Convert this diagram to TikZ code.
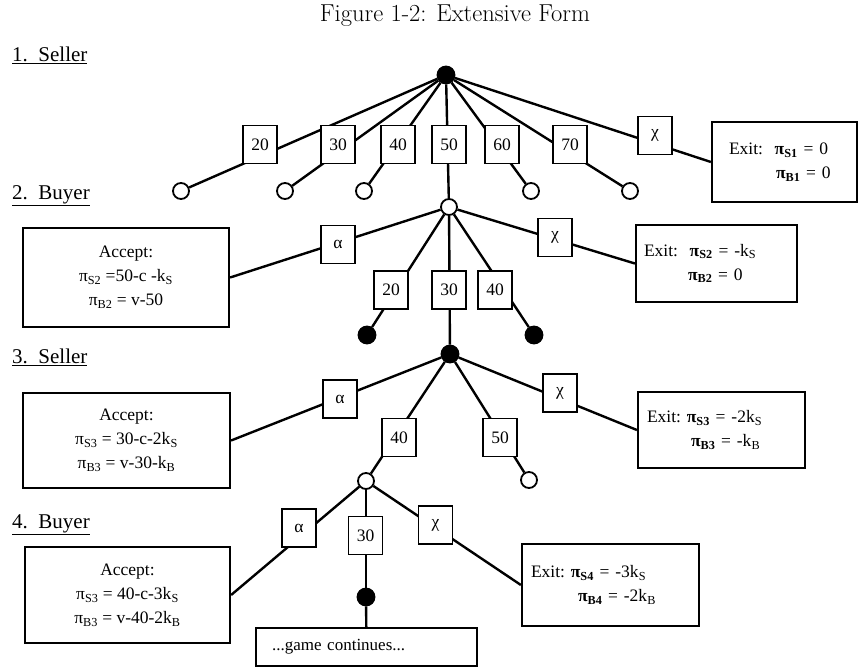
\documentclass[tikz,border=0pt]{standalone}
\usepackage{fontspec}
\newfontfamily\timesfont{Liberation Serif}
\newcommand{\pay}[1]{π\textsubscript{#1}}
\newcommand{\xpay}[1]{\textbf{π\textsubscript{#1}}}

\begin{document}
\begin{tikzpicture}[x=1pt,y=-1pt,
  every node/.style={font=\timesfont\fontsize{17.5}{24}\selectfont},
  move/.style={draw,fill=white,line width=1.8pt,minimum width=34pt,
               minimum height=38pt,inner sep=0pt},
  sellnode/.style={circle,draw,fill=black,line width=1.8pt,
                   minimum size=17pt,inner sep=0pt},
  buynode/.style={circle,draw,fill=white,line width=1.8pt,
                  minimum size=16pt,inner sep=0pt},
  payoff/.style={draw,line width=2.2pt,inner sep=0pt},
  exitbox/.style={payoff,align=left,inner xsep=9pt},
  level/.style={anchor=base west,inner sep=0pt,
                font=\timesfont\fontsize{21}{21}\selectfont},
  edge/.style={line width=2.4pt}]
 \useasboundingbox (0,0) rectangle (859,669);
 \node[font=\rmfamily\fontsize{24.5}{24.5}\selectfont] (title) at (455,16)
    {Figure 1-2: Extensive Form};
 \node[level] (lev1) at (12,62) {\underline{1.\ \ Seller}};
 \node[level] (lev2) at (12,199) {\underline{2.\ \ Buyer}};
 \node[level] (lev3) at (12,363) {\underline{3.\ \ Seller}};
 \node[level] (lev4) at (12,528) {\underline{4.\ \ Buyer}};

 \node[sellnode] (sell1) at (446,75) {};
 \node[buynode] (buy20) at (181,191) {};
 \node[buynode] (buy30) at (285,191) {};
 \node[buynode] (buy40) at (364,191) {};
 \node[buynode] (buy60) at (531,191) {};
 \node[buynode] (buy70) at (630,191) {};
 \node[buynode] (buy2) at (449,207) {};
 \node[exitbox,text width=111pt,inner xsep=17pt,minimum height=80pt]
    (exit1) at (784.5,162) {Exit:\ \ \xpay{S1} = 0\\\hspace*{47pt}\xpay{B1} = 0};

 \node[payoff,align=center,minimum width=206pt,minimum height=99pt]
    (accept2) at (126,277.5)
    {Accept:\\\pay{S2} =50-c -k\textsubscript{S}\\\pay{B2} = v-50};
 \node[exitbox,text width=145pt,inner xsep=8pt,minimum height=77pt]
    (exit2) at (716.5,263.5)
    {Exit:\ \ \xpay{S2} = -k\textsubscript{S}\\\hspace*{44pt}\xpay{B2} = 0};
 \node[sellnode] (sell20) at (367,335) {};
 \node[sellnode] (sell40) at (534,335) {};
 \node[sellnode] (sell3) at (450,354) {};

 \node[payoff,align=center,minimum width=207pt,minimum height=95pt]
    (accept3) at (126.5,440.5)
    {Accept:\\\pay{S3} = 30-c-2k\textsubscript{S}\\\pay{B3} = v-30-k\textsubscript{B}};
 \node[exitbox,text width=149pt,minimum height=76pt]
    (exit3) at (721.5,430)
    {Exit:\ \xpay{S3} = -2k\textsubscript{S}\\\hspace*{44pt}\xpay{B3} = -k\textsubscript{B}};
 \node[buynode] (buy4) at (366,481) {};
 \node[buynode] (buy50) at (529,480) {};

 \node[payoff,align=center,minimum width=205pt,minimum height=96pt]
    (accept4) at (127.5,595)
    {Accept:\\\pay{S3} = 40-c-3k\textsubscript{S}\\\pay{B3} = v-40-2k\textsubscript{B}};
 \node[exitbox,text width=159pt,minimum height=82pt] (exit4) at (610.5,585)
    {Exit:\ \xpay{S4} = -3k\textsubscript{S}\\\hspace*{47pt}\xpay{B4} = -2k\textsubscript{B}};
 \node[sellnode] (sell4) at (366,597) {};
 \node[payoff,align=left,text width=189pt,inner xsep=16pt,minimum height=38pt,
       font=\timesfont\fontsize{17}{20}\selectfont]
    (game) at (366.5,647) {...game continues...};

 \draw[edge] (sell1) -- (buy20);
 \draw[edge] (sell1) -- (buy30);
 \draw[edge] (sell1) -- (buy40);
 \draw[edge] (sell1) -- (buy2);
 \draw[edge] (sell1) -- (buy60);
 \draw[edge] (sell1) -- (buy70);
 \draw[edge] (sell1) -- (exit1.west);
 \draw[edge] (buy2) -- (accept2.east);
 \draw[edge] (buy2) -- (exit2.west);
 \draw[edge] (buy2) -- (sell20);
 \draw[edge] (buy2) -- (sell3);
 \draw[edge] (buy2) -- (sell40);
 \draw[edge] (sell3) -- (accept3.east);
 \draw[edge] (sell3) -- (exit3.west);
 \draw[edge] (sell3) -- (buy4);
 \draw[edge] (sell3) -- (buy50);
 \draw[edge] (buy4) -- (accept4.east);
 \draw[edge] (buy4) -- (exit4.west);
 \draw[edge] (buy4) -- (sell4);
 \draw[edge] (sell4) -- (game);

 \node[move] (bid20) at (260,144.5) {20};
 \node[move] (bid30) at (338,144.5) {30};
 \node[move] (bid40) at (398,144.5) {40};
 \node[move] (bid50) at (449,144.5) {50};
 \node[move] (bid60) at (502,144.5) {60};
 \node[move] (bid70) at (570,144.5) {70};
 \node[move] (quit1) at (655,135.5) {χ};

 \node[move] (take2) at (338,244.5) {α};
 \node[move] (quit2) at (555,237.5) {χ};
 \node[move] (ask20) at (391,290) {20};
 \node[move] (ask30) at (449,290) {30};
 \node[move] (ask40) at (495,290) {40};

 \node[move] (take3) at (340,399) {α};
 \node[move] (quit3) at (560,393) {χ};
 \node[move] (bid3a) at (399,437.5) {40};
 \node[move] (bid3b) at (500,437.5) {50};

 \node[move] (take4) at (299,528) {α};
 \node[move] (ask4) at (365.5,535.5) {30};
 \node[move] (quit4) at (435.5,525) {χ};
\end{tikzpicture}
\end{document}
